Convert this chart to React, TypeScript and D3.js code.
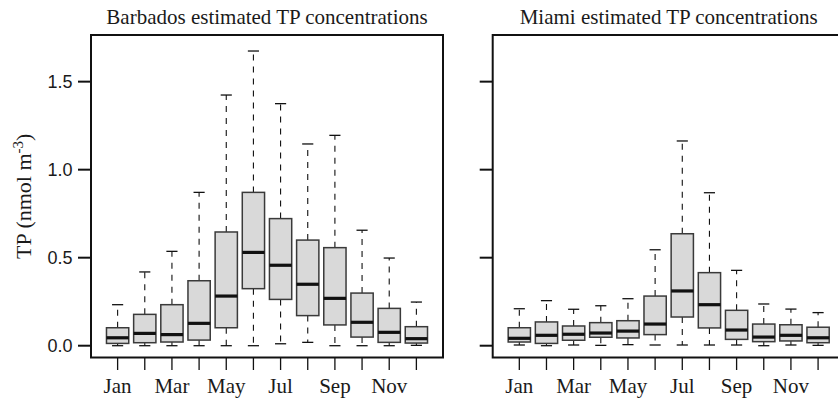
import React from "react";
import * as d3 from "d3";

// Monthly TP concentration summaries (nmol m^-3): whisker low, Q1, median, Q3, whisker high
const months = ["Jan", "Feb", "Mar", "Apr", "May", "Jun", "Jul", "Aug", "Sep", "Oct", "Nov", "Dec"];
const tickLabels = ["Jan", "", "Mar", "", "May", "", "Jul", "", "Sep", "", "Nov", ""];
const yTicks = [0, 0.5, 1.0, 1.5];

const barbadosLow = [0.0, 0.0, 0.0, 0.0, 0.0, 0.0, 0.011, 0.019, 0.0, 0.0, 0.0, 0.002];
const barbadosQ1 = [0.013, 0.017, 0.021, 0.032, 0.102, 0.324, 0.263, 0.171, 0.118, 0.049, 0.019, 0.015];
const barbadosMed = [0.045, 0.07, 0.063, 0.127, 0.282, 0.53, 0.457, 0.349, 0.269, 0.133, 0.076, 0.04];
const barbadosQ3 = [0.102, 0.178, 0.233, 0.369, 0.646, 0.871, 0.722, 0.6, 0.557, 0.299, 0.212, 0.108];
const barbadosHigh = [0.233, 0.419, 0.536, 0.871, 1.424, 1.674, 1.375, 1.146, 1.195, 0.656, 0.498, 0.248];

const miamiLow = [0.004, 0.0, 0.004, 0.002, 0.006, 0.004, 0.004, 0.004, 0.004, 0.0, 0.004, 0.002];
const miamiQ1 = [0.021, 0.013, 0.031, 0.048, 0.044, 0.063, 0.163, 0.101, 0.036, 0.023, 0.027, 0.017];
const miamiMed = [0.042, 0.059, 0.065, 0.072, 0.083, 0.123, 0.311, 0.233, 0.089, 0.049, 0.059, 0.045];
const miamiQ3 = [0.102, 0.135, 0.112, 0.131, 0.142, 0.282, 0.636, 0.415, 0.201, 0.123, 0.119, 0.105];
const miamiHigh = [0.21, 0.256, 0.207, 0.227, 0.267, 0.545, 1.163, 0.869, 0.428, 0.237, 0.208, 0.188];

type Panel = {
  title: string;
  left: number;
  showLabels: boolean;
  low: number[];
  q1: number[];
  med: number[];
  q3: number[];
  high: number[];
};

const panels: Panel[] = [
  { title: "Barbados estimated TP concentrations", left: 91, showLabels: true, low: barbadosLow, q1: barbadosQ1, med: barbadosMed, q3: barbadosQ3, high: barbadosHigh },
  { title: "Miami estimated TP concentrations", left: 492.7, showLabels: false, low: miamiLow, q1: miamiQ1, med: miamiMed, q3: miamiQ3, high: miamiHigh },
];

const W = 838;
const H = 399;
const panelW = 352;
const top = 35;
const bottom = 357.5;

const serif = "'Liberation Serif', 'Times New Roman', serif";
const sans = "'Liberation Sans', Arial, sans-serif";

const y = d3.scaleLinear().domain([-0.067, 1.765]).range([bottom, top]);

function BoxPanel({ p }: { p: Panel }) {
  const x = d3.scaleLinear().domain([0.02, 12.98]).range([p.left, p.left + panelW]);
  const step = x(2) - x(1);
  const bw = step * 0.82;
  const capW = bw / 2;
  return (
    <g>
      <text x={p.left + panelW / 2} y={23.5} textAnchor="middle" fontFamily={serif} fontSize={21} fill="#1a1a1a">
        {p.title}
      </text>
      {months.map((m, i) => {
        const cx = x(i + 1);
        return (
          <g key={m}>
            <line x1={cx} x2={cx} y1={y(p.q3[i])} y2={y(p.high[i])} stroke="#111" strokeWidth={1.1} strokeDasharray="6,6" />
            <line x1={cx} x2={cx} y1={y(p.q1[i])} y2={y(p.low[i])} stroke="#111" strokeWidth={1.1} strokeDasharray="6,6" />
            <line x1={cx - capW / 2} x2={cx + capW / 2} y1={y(p.high[i])} y2={y(p.high[i])} stroke="#111" strokeWidth={1.3} />
            <line x1={cx - capW / 2} x2={cx + capW / 2} y1={y(p.low[i])} y2={y(p.low[i])} stroke="#111" strokeWidth={1.3} />
            <rect x={cx - bw / 2} y={y(p.q3[i])} width={bw} height={y(p.q1[i]) - y(p.q3[i])} fill="#d9d9d9" stroke="#3a3a3a" strokeWidth={1.5} />
            <line x1={cx - bw / 2} x2={cx + bw / 2} y1={y(p.med[i])} y2={y(p.med[i])} stroke="#111" strokeWidth={3.2} />
            <line x1={cx} x2={cx} y1={bottom} y2={bottom + 12.5} stroke="#111" strokeWidth={1.3} />
            {tickLabels[i] && (
              <text x={cx} y={393} textAnchor="middle" fontFamily={serif} fontSize={21} fill="#1a1a1a">
                {tickLabels[i]}
              </text>
            )}
          </g>
        );
      })}
      {yTicks.map((t) => (
        <g key={t}>
          <line x1={p.left - 13} x2={p.left} y1={y(t)} y2={y(t)} stroke="#111" strokeWidth={2} />
          {p.showLabels && (
            <text x={p.left - 18.5} y={y(t)} dy="0.36em" textAnchor="end" fontFamily={sans} fontSize={18} fill="#1a1a1a">
              {t.toFixed(1)}
            </text>
          )}
        </g>
      ))}
      <rect x={p.left} y={top} width={panelW} height={bottom - top} fill="none" stroke="#111" strokeWidth={2} />
    </g>
  );
}

export default function App() {
  const midY = (top + bottom) / 2;
  return (
    <svg width={W} height={H} style={{ display: "block", position: "absolute", left: 0, top: 0, background: "#fff" }}>
      <rect width={W} height={H} fill="#fff" />
      {panels.map((p) => (
        <BoxPanel key={p.title} p={p} />
      ))}
      <text transform={`translate(31,${midY}) rotate(-90)`} textAnchor="middle" fontFamily={serif} fontSize={22} fill="#1a1a1a">
        TP (nmol m
        <tspan dy={-8} fontSize={15}>-3</tspan>
        <tspan dy={8}>)</tspan>
      </text>
    </svg>
  );
}
